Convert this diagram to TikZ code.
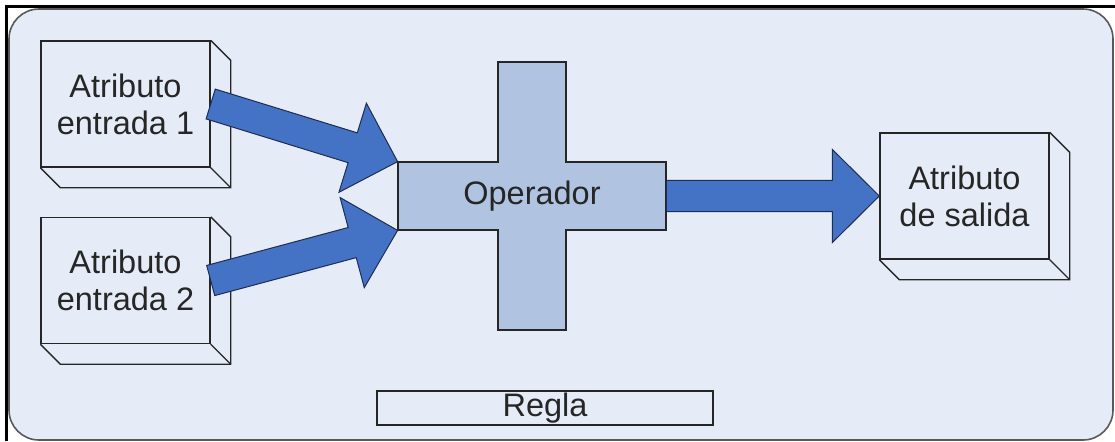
\documentclass[tikz,border=0pt]{standalone}
\usepackage{fontspec}
\setmainfont{Liberation Sans}
\usepackage{xcolor}
\usetikzlibrary{positioning, calc}

\definecolor{panelbg}{HTML}{E6ECF7}
\definecolor{opfill}{HTML}{B0C4E2}
\definecolor{flowfill}{HTML}{4472C4}
\definecolor{flowline}{HTML}{1E2D52}
\definecolor{inkgray}{HTML}{262626}

% fat arrow from #1 (tail) to #2 (tip)
\newcommand{\blockarrow}[2]{%
  \coordinate (hb) at ($(#2)!23.5pt!(#1)$);
  \draw[flow] ($(#1)!7.8pt!90:(#2)$) -- ($(hb)!7.8pt!90:(#2)$)
    -- ($(hb)!23.3pt!90:(#2)$) -- (#2) -- ($(hb)!23.3pt!-90:(#2)$)
    -- ($(hb)!7.8pt!-90:(#2)$) -- ($(#1)!7.8pt!-90:(#2)$) -- cycle;}

\begin{document}
\begin{tikzpicture}[x=0.5pt, y=-0.5pt,
            attr/.style={rectangle, draw=inkgray, line width=0.7pt, fill=panelbg, minimum width=84.5pt, minimum height=63pt, inner sep=0pt, align=center, text=inkgray},
            depth/.style={draw=inkgray, line width=0.7pt},
            flow/.style={fill=flowfill, draw=flowline, line width=0.5pt, line join=miter},
            font=\fontsize{16.25}{18.5}\selectfont
        ]
            \useasboundingbox (0,0) rectangle (1115,441);

% Frame and panel
            \draw[black, line width=1.5pt] (6,441) -- (6,6) -- (1115,6);
            \draw[fill=panelbg, draw=black!65, line width=0.8pt, rounded corners=15pt] (9,9) rectangle (1113,440);

% Input attributes
            \node[attr] (in1) at (125.5,104) {Atributo\\entrada 1};
            \node[attr] (in2) at (125.5,280.5) {Atributo\\entrada 2};

% Output attribute
            \node[attr] (out) at (964.5,196) {Atributo\\de salida};

% Box depth
            \foreach \b in {in1,in2,out} {
                \draw[depth] (\b.north east) -- ++(20,20) -- ([shift={(20,20)}]\b.south east) -- ([shift={(20,20)}]\b.south west) -- (\b.south west);
                \draw[depth] (\b.south east) -- ++(20,20);
            }

% Operator cross
            \node[minimum width=134pt, minimum height=34pt, inner sep=0pt] (op) at (532,196) {};
            \draw[fill=opfill, draw=inkgray, line width=0.7pt] (op.center) ++(-34,-134) -- ++(68,0) -- ++(0,100) -- ++(100,0) -- ++(0,68) -- ++(-100,0) -- ++(0,100) -- ++(-68,0) -- ++(0,-100) -- ++(-100,0) -- ++(0,-68) -- ++(100,0) -- cycle;
            \node[text=inkgray] (oplabel) at (op.center) {Operador};

% Rule label
            \node[rectangle, draw=inkgray, line width=0.7pt, minimum width=168pt, minimum height=17pt, inner sep=0pt, text=inkgray] (rule) at (545,408) {Regla};

% Arrows
            \blockarrow{in1.east}{op.north west}
            \blockarrow{in2.east}{op.south west}
            \blockarrow{op.east}{out.west}

        \end{tikzpicture}
\end{document}
